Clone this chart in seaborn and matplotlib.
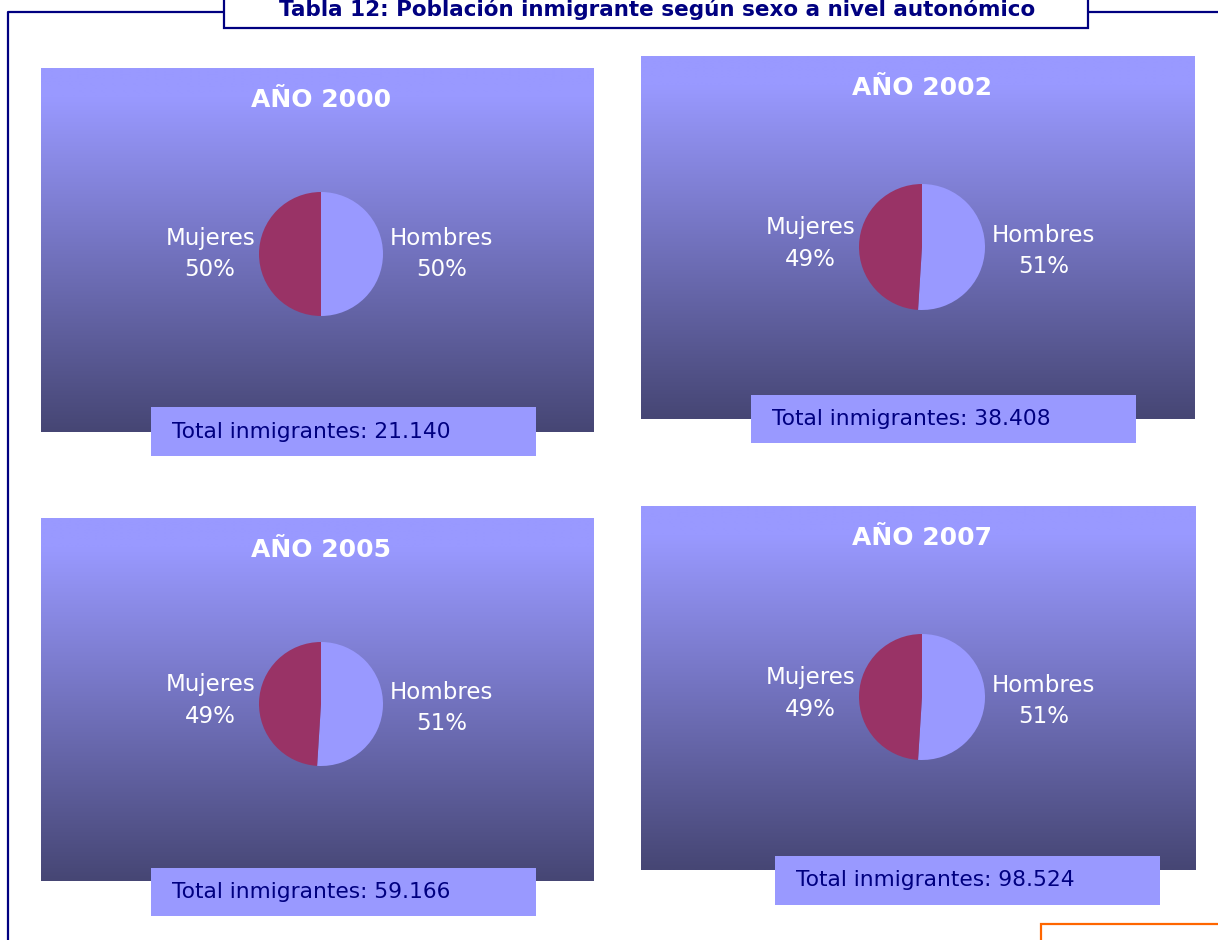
import numpy as np
import matplotlib
matplotlib.use("Agg")
import matplotlib.pyplot as plt
import matplotlib.patches as mpatches
import matplotlib.colors as mcolors
import seaborn as sns

# 数据
anios = ["2000", "2002", "2005", "2007"]
hombres = [50, 51, 51, 51]
mujeres = [50, 49, 49, 49]
totales = ["21.140", "38.408", "59.166", "98.524"]
etiquetas = ["Hombres", "Mujeres"]
titulo = "Tabla 12: Población inmigrante según sexo a nivel autonómico"

W, H = 1218, 940
COL_H = "#9999FF"
COL_M = "#993366"
NAVY = "#000080"

sns.set_theme(style="white")
plt.rcParams['font.family'] = ['DejaVu Sans']

fig = plt.figure(figsize=(W / 100, H / 100), dpi=100)
ax = fig.add_axes([0, 0, 1, 1])
ax.set_xlim(0, W)
ax.set_ylim(0, H)
ax.axis("off")


def yy(y):
    # 图片坐标(从上往下) -> matplotlib 坐标
    return H - y


# 四个面板的位置 (x0, y0, x1, y1)，饼图圆心和半径，总数框
paneles = [(41, 68, 594, 432), (641, 56, 1195, 419),
           (41, 518, 594, 881), (641, 506, 1196, 870)]
centros = [(321, 254, 62), (922, 247, 63), (321, 704, 62), (922, 697, 63)]
cajas = [(151, 407, 536, 456), (751, 395, 1136, 443),
         (151, 868, 536, 916), (775, 856, 1160, 905)]

# 渐变色
top = np.array(mcolors.to_rgb("#9999FF"))
bot = np.array(mcolors.to_rgb("#464674"))
t = np.linspace(0, 1, 256)
t = np.clip((t - 0.08) / 0.92, 0, 1)
grad = (top[None, :] * (1 - t[:, None]) + bot[None, :] * t[:, None])[:, None, :]

for i, anio in enumerate(anios):
    x0, y0, x1, y1 = paneles[i]
    ax.imshow(grad, extent=[x0, x1, yy(y1), yy(y0)], aspect="auto", zorder=1,
              interpolation="bilinear")
    cx, cy, r = centros[i]
    wedges, _ = ax.pie([hombres[i], mujeres[i]], colors=[COL_H, COL_M],
                       startangle=90, counterclock=False,
                       center=(cx, yy(cy)), radius=r,
                       wedgeprops=dict(linewidth=0))
    for w in wedges:
        w.set_zorder(3)
    # 标签
    ang_h = np.deg2rad(90 - 180 * hombres[i] / 100)
    ang_m = np.deg2rad(90 - 360 * hombres[i] / 100 - 180 * mujeres[i] / 100)
    ax.text(cx + r + 7, yy(cy) + 120 * np.sin(ang_h), f"{etiquetas[0]}\n{hombres[i]}%",
            ha="left", va="center", multialignment="center", color="white",
            fontsize=16.5, linespacing=1.45, zorder=4)
    ax.text(cx - r - 4, yy(cy) + 110 * np.sin(ang_m), f"{etiquetas[1]}\n{mujeres[i]}%",
            ha="right", va="center", multialignment="center", color="white",
            fontsize=16.5, linespacing=1.45, zorder=4)
    # 标题
    ax.text(cx, yy(y0 + 32), f"AÑO {anio}", ha="center", va="center",
            color="white", fontsize=18, fontweight="bold", zorder=4)
    # 总数框
    bx0, by0, bx1, by1 = cajas[i]
    ax.add_patch(mpatches.Rectangle((bx0, yy(by1)), bx1 - bx0, by1 - by0,
                                    facecolor="#9999FF", edgecolor="none", zorder=5))
    ax.text(bx0 + 21, yy((by0 + by1) / 2), f"Total inmigrantes: {totales[i]}",
            ha="left", va="center", color=NAVY, fontsize=15.7, zorder=6)

# 外框
ax.plot([8, 8], [yy(12), 0], color=NAVY, lw=1.6, zorder=7, solid_capstyle="butt")
ax.plot([8, 224], [yy(12), yy(12)], color=NAVY, lw=1.6, zorder=7)
ax.plot([1088, W], [yy(12), yy(12)], color=NAVY, lw=1.6, zorder=7)
ax.add_patch(mpatches.Rectangle((224, yy(28)), 864, 40, facecolor="white",
                                edgecolor=NAVY, lw=1.6, zorder=8))
ax.text(657, yy(16), titulo, ha="center", va="baseline", color=NAVY,
        fontsize=15.5, fontweight="bold", zorder=9)
# 右下角橙色框
ax.add_patch(mpatches.Rectangle((1041, -20), 300, yy(924) + 20, facecolor="none",
                                edgecolor="#FF6600", lw=1.6, zorder=7))

ax.set_xlim(0, W)
ax.set_ylim(0, H)
ax.set_aspect("auto")
fig.savefig("out.png", dpi=100)
plt.close(fig)
